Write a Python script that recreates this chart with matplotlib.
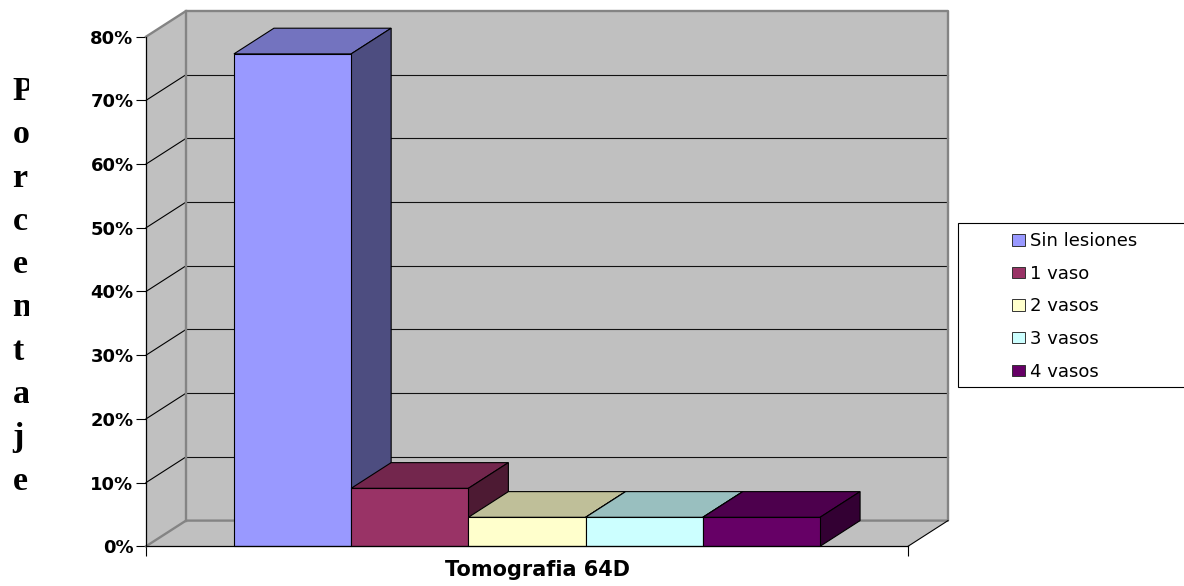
import matplotlib
matplotlib.use("Agg")
import matplotlib.pyplot as plt
from matplotlib.colors import to_rgb
from matplotlib.patches import Patch, Rectangle
from matplotlib.transforms import Bbox

categories = ["Sin lesiones", "1 vaso", "2 vasos", "3 vasos", "4 vasos"]
values = [77.3, 9.1, 4.55, 4.55, 4.55]
colors = ["#9999FF", "#993366", "#FFFFCC", "#CCFFFF", "#660066"]
y_ticks = [0, 10, 20, 30, 40, 50, 60, 70, 80]
y_letters = list("Porcentaje")
x_title = "Tomografia 64D"

W, H = 1184, 586
wall = "#C0C0C0"
wall_edge = "#848484"


def shade(color, k):
    return tuple(c * k for c in to_rgb(color))


# wide sans, the labels here are broad for their height
plt.rcParams["font.family"] = ["DejaVu Sans"]

fig = plt.figure(figsize=(W / 100, H / 100), dpi=100)
# front plane of the 3d box, in pixels
left, right, top, bottom = 146, 908, 36.7, 546.3
ax = fig.add_axes([left / W, 1 - bottom / H, (right - left) / W, (bottom - top) / H])

xmin, xmax = -1.25, 5.25
ax.set_xlim(xmin, xmax)
ax.set_ylim(0, 80)
ax.set_facecolor("none")

# depth of the box in data units (40 px across, 25.7 px up)
dx = 40 / ((right - left) / (xmax - xmin))
dy = 25.7 / ((bottom - top) / 80)

# walls and floor
ax.fill([xmin + dx, xmax + dx, xmax + dx, xmin + dx], [dy, dy, 80 + dy, 80 + dy], color=wall, lw=0, clip_on=False, zorder=1)
ax.fill([xmin, xmin + dx, xmin + dx, xmin], [0, dy, 80 + dy, 80], color=wall, lw=0, clip_on=False, zorder=1)
ax.fill([xmin, xmax, xmax + dx, xmin + dx], [0, 0, dy, dy], color=wall, lw=0, clip_on=False, zorder=1)

# gridlines
for t in y_ticks[1:-1]:
    ax.plot([xmin + dx, xmax + dx], [t + dy, t + dy], color="#111111", lw=0.8, clip_on=False, zorder=2)
    ax.plot([xmin, xmin + dx], [t, t + dy], color="black", lw=0.8, clip_on=False, zorder=2)

# grey outline of the box
ax.plot([xmin, xmin + dx, xmax + dx, xmax + dx, xmin + dx, xmin], [80, 80 + dy, 80 + dy, dy, dy, 0], color=wall_edge, lw=1.7, clip_on=False, zorder=3)
ax.plot([xmin + dx, xmin + dx], [dy, 80 + dy], color=wall_edge, lw=1.7, clip_on=False, zorder=3)
ax.plot([xmax, xmax + dx], [0, dy], color="black", lw=0.8, clip_on=False, zorder=3)

# bars, left to right so each one covers the side of the previous one
for i, (v, c) in enumerate(zip(values, colors)):
    z = 4 + i
    x0, x1 = i - 0.5, i + 0.5
    ax.fill([x0, x1, x1 + dx, x0 + dx], [v, v, v + dy, v + dy], facecolor=shade(c, 0.75), edgecolor="black", lw=0.8, clip_on=False, zorder=z)
    ax.fill([x1, x1 + dx, x1 + dx, x1], [0, dy, v + dy, v], facecolor=shade(c, 0.5), edgecolor="black", lw=0.8, clip_on=False, zorder=z)
    ax.bar(i, v, width=1, color=c, edgecolor="black", lw=0.8, clip_on=False, zorder=z)

for s in ["top", "right"]:
    ax.spines[s].set_visible(False)
for s in ["left", "bottom"]:
    ax.spines[s].set_linewidth(0.9)
    ax.spines[s].set_zorder(10)

ax.set_xticks([xmin, xmax])
ax.set_xticklabels(["", ""])
ax.set_yticks(y_ticks)
ax.set_yticklabels([f"{t}%" for t in y_ticks], fontsize=13, fontweight="bold")
ax.tick_params(axis="both", length=7, width=0.8, color="black", pad=2)

fig.text(537.5 / W, 1 - 569.5 / H, x_title, fontsize=15, fontweight="bold", ha="center", va="center")

# stacked y title, cut off on the right by its narrow box
clip = Bbox([[0, 0], [29, H]])
for i, ch in enumerate(y_letters):
    t = fig.text(12.5 / W, 1 - (100 + i * 43.3) / H, ch, family=["Liberation Serif"], fontsize=24.5, fontweight="bold", ha="left", va="baseline")
    t.set_clip_box(clip)
    t.set_clip_on(True)

# legend box runs off the right side of the figure
fig.add_artist(Rectangle((958 / W, 1 - 387.3 / H), 240 / W, 164 / H, transform=fig.transFigure, facecolor="white", edgecolor="black", lw=0.8))
handles = [Patch(facecolor=c, edgecolor="#333333", lw=0.7) for c in colors]
fig.legend(handles, categories, loc="upper left", bbox_to_anchor=(996 / W, 1 - 216 / H), frameon=False, fontsize=13, handlelength=0.72, handleheight=0.6, handletextpad=0.26, labelspacing=0.81)

fig.savefig("out.png", dpi=100)
